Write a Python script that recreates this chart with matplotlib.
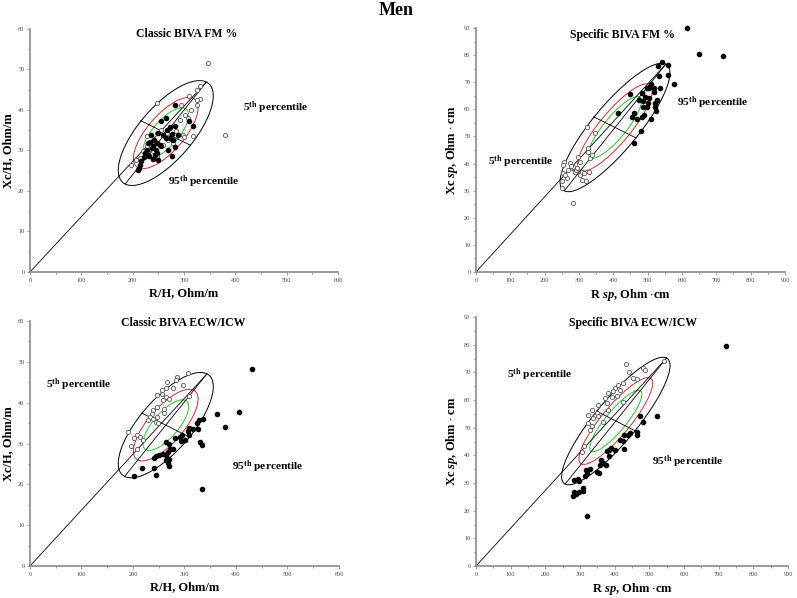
import numpy as np
import matplotlib
matplotlib.use('Agg')
import matplotlib.pyplot as plt
from matplotlib.ticker import MultipleLocator, AutoMinorLocator

plt.rcParams['font.family'] = ['Liberation Serif', 'DejaVu Serif']
plt.rcParams['mathtext.fontset'] = 'custom'
plt.rcParams['mathtext.rm'] = 'Liberation Serif'
plt.rcParams['mathtext.it'] = 'Liberation Serif:italic'
plt.rcParams['mathtext.bf'] = 'Liberation Serif:bold'
plt.rcParams['mathtext.bfit'] = 'Liberation Serif:bold:italic'

# Classic BIVA FM % (R/H, Xc/H)
R1_open = [347, 379.5, 247.8, 331, 326, 309.4, 331, 326, 325.6, 295, 314.6, 301.6, 292, 308, 317.8, 298, 300,
           227, 246.5, 256, 272.4, 266, 227, 230, 196, 205.6, 214, 220.5, 240, 259.5, 269, 279, 236.8, 246.5, 285]
Xc1_open = [51.6, 33.9, 41.6, 46, 45, 43.4, 42.6, 42.5, 41.3, 41.3, 40.1, 38.8, 37.6, 38, 33.5, 33.9, 33.3,
            33.5, 34.3, 35.1, 35.6, 34.3, 31, 29.4, 26.5, 27.7, 28.1, 29.8, 29.8, 31.4, 32.7, 31.9, 31.9, 28.6, 34.7]
R1_fill = [282, 264.6, 255, 310, 316.6, 282.8, 272.4, 267, 288.6, 275.7, 259.5, 234.8, 241, 233.5, 246.5, 272.4,
           279, 264.6, 253, 256, 283.4, 269, 245, 236.8, 227, 223.8, 230, 243, 248, 240, 250, 277, 222, 217, 214,
           212.8, 209.5, 231.6, 238.7, 249.8, 230]
Xc1_fill = [41.3, 37.9, 37.2, 37.2, 36, 36.1, 35.7, 35, 33.9, 34, 33.9, 33.9, 32.7, 32.1, 31.9, 33.1, 32.7, 33.1,
            31.4, 31, 30.9, 30, 30.2, 30.6, 30.2, 29.4, 29, 29, 29.4, 27.9, 27.7, 28.6, 28.4, 27.3, 26.5, 25.7,
            25.1, 28.6, 31, 34.3, 31.9]

# Specific BIVA FM % (R sp, Xc sp)
R2_open = [281.6, 322.3, 346.6, 327.2, 332, 337, 303, 278.6, 273.8, 288.3, 264, 303, 307.8, 319.4, 330, 249.5,
           249.5, 254.4, 283.5, 290.3, 295, 256.3, 252.4, 307.8, 275.7, 259.2, 298, 325, 269, 315.5]
Xc2_open = [25.4, 53.6, 51.1, 44.4, 42.2, 43.2, 40.7, 38.3, 40.1, 37, 34.8, 35.8, 34, 33.6, 36.7, 33.4, 30.9,
            36.4, 38.9, 37.6, 38.3, 40.7, 39.5, 37, 39.1, 35.8, 42.5, 45.9, 37.6, 36.4]
R2_fill = [615.5, 648.5, 718.4, 542.7, 529, 558, 534, 560, 576.7, 509.7, 536, 518.4, 499, 505, 482.5, 519, 448.5,
           474.8, 492, 505, 526.2, 521, 502, 485.4, 497, 487.4, 521.4, 524, 414.6, 460, 455.3, 470, 490, 483.5,
           510.7, 480.6, 461.2]
Xc2_fill = [90, 80.3, 79.7, 77.5, 76, 76.3, 72.2, 72.6, 69.3, 69.5, 68, 67.7, 67.7, 67.7, 66.1, 66.5, 65.5, 63.6,
            64.4, 64, 63.6, 62.2, 62.2, 63.1, 60.9, 60.7, 60.7, 59.5, 58.7, 58.7, 57, 56.6, 57.9, 57.3, 56.6, 52.1,
            47.5]

# Classic BIVA ECW/ICW
R3_open = [306, 286, 282.8, 265.4, 264, 297.7, 278, 255.7, 246, 257, 263.4, 270.6, 257.6, 309.4, 246, 239.5, 237,
           260.8, 260.8, 233, 239.5, 247, 244, 249, 191, 208.4, 213.6, 202.6, 195.5, 220, 207, 228.5]
Xc3_open = [47.3, 46.3, 45.6, 45.1, 43.7, 44.4, 43.7, 43, 41.8, 42.2, 41.4, 40.8, 40.6, 41.6, 38.9, 38.1, 37.3,
            38.5, 37.5, 36.5, 36.1, 36.5, 35.3, 35, 32.8, 32, 31.6, 31.3, 29.4, 30.9, 28.6, 35.8]
R3_fill = [431.7, 405.8, 362.5, 379.3, 336.6, 329, 323.6, 317, 327, 308.7, 307.4, 308.7, 295.8, 291.3, 301, 293,
           282, 330, 334, 263.4, 270, 278.3, 272, 268.6, 257.6, 251, 244.7, 240.8, 263.4, 270.6, 263.4, 267.3,
           270.6, 241.4, 218, 202.6, 244.7, 335]
Xc3_fill = [48.2, 37.7, 37.3, 34, 36.1, 35.8, 35, 33.5, 33.6, 33.9, 33, 32.2, 32, 31.6, 30.9, 30.6, 31.4, 30.4,
            29.7, 30.4, 30, 28.7, 28.7, 27.9, 27.5, 27.3, 26.9, 26.5, 27.3, 26.3, 25.9, 25.3, 24.4, 24, 24, 22,
            22.4, 18.8]

# Specific BIVA ECW/ICW
R4_open = [543, 432, 482.7, 487.5, 441.5, 454, 463.5, 425, 410.7, 401, 396, 372, 391.6, 406, 415.5, 425, 353, 377,
           334, 348, 324, 353, 338.8, 367.6, 324, 334, 329, 313, 307, 382, 382]
Xc4_open = [74.2, 73, 71.6, 71, 70.1, 68, 67.6, 66.1, 65.5, 64.3, 63.1, 60.7, 61.1, 61.3, 63.7, 59.2, 58.3, 58.9,
            56.5, 55.3, 54.7, 54.1, 53.5, 51.9, 51.7, 50.5, 49.3, 43.5, 41.1, 56.3, 62.5]
R4_fill = [720.7, 521, 473, 480.8, 465.4, 463.5, 444.3, 439.5, 427, 415.5, 423, 401, 388.7, 385, 379, 428, 383.9,
           360.8, 358, 374, 365.5, 329, 317.7, 321.5, 348, 355, 314.5, 295.6, 283, 297, 284, 288, 281, 298.5, 310,
           310, 321.5]
Xc4_fill = [79.6, 54.3, 54.1, 51.9, 48.3, 47.5, 48.1, 47.5, 47.5, 45.7, 45.1, 41.8, 42.7, 41.8, 41.4, 42.4, 39.6,
            38.2, 36.6, 36.4, 37.2, 35.2, 34.6, 33.6, 33.9, 33.6, 32.4, 31.4, 31.2, 30.6, 26.6, 26, 25.2, 26.6, 28.2,
            27, 17.9]

# reference population: mean R, mean Xc, SD R, SD Xc, r
ref_classic_fm = [264.5, 34.3, 37.8, 5.29, 0.71]
ref_specific_fm = [405, 53.3, 65.4, 9.68, 0.85]
ref_classic_ecw = [263.7, 34.5, 37.7, 5.27, 0.73]
ref_specific_ecw = [403.4, 52.4, 63.9, 9.42, 0.87]

# tolerance ellipses 50 %, 75 %, 95 %
percentiles = [0.50, 0.75, 0.95]
ellipse_colors = ['#22cc22', '#e8262a', 'black']

titles = ['Classic BIVA FM %', 'Specific BIVA FM %', 'Classic BIVA ECW/ICW', 'Specific BIVA ECW/ICW']


def ellipse_geometry(ref, p, scale=10.0):
    mR, mX, sR, sX, r = ref
    k = np.sqrt(-2 * np.log(1 - p))
    cov = np.array([[sR ** 2, r * sR * sX], [r * sR * sX, sX ** 2]])
    D = np.diag([1.0, scale])
    vals, vecs = np.linalg.eigh(D @ cov @ D)
    t = np.linspace(0, 2 * np.pi, 300)
    pts = vecs @ (np.sqrt(vals)[:, None] * k * np.vstack([np.cos(t), np.sin(t)]))
    pts = pts / np.array([[1.0], [scale]])
    minor = vecs[:, 0] * np.sqrt(vals[0]) * k / np.array([1.0, scale])
    major = vecs[:, 1] * np.sqrt(vals[1]) * k / np.array([1.0, scale])
    if major[0] < 0:
        major = -major
    return mR + pts[0], mX + pts[1], major, minor


def draw_panel(ax, ref, r_open, x_open, r_fill, x_fill, xmax, ymax):
    mR, mX = ref[0], ref[1]
    for p, c in zip(percentiles, ellipse_colors):
        ex, ey, major, minor = ellipse_geometry(ref, p)
        ax.plot(ex, ey, color=c, lw=0.7, zorder=2)
    # axes of the 95 % ellipse and line from origin
    ax.plot([mR - major[0], mR + major[0]], [mX - major[1], mX + major[1]], color='black', lw=0.6, zorder=2)
    ax.plot([mR - minor[0], mR + minor[0]], [mX - minor[1], mX + minor[1]], color='black', lw=0.6, zorder=2)
    ax.plot([0, mR + major[0]], [0, mX + major[1]], color='black', lw=0.6, zorder=2)

    ax.scatter(r_open, x_open, s=9, facecolors='white', edgecolors='#555555', linewidths=0.6, zorder=3,
               clip_on=False)
    ax.scatter(r_fill, x_fill, s=9, color='black', zorder=4, clip_on=False)

    ax.set_xlim(0, xmax)
    ax.set_ylim(0, ymax)
    ax.xaxis.set_major_locator(MultipleLocator(100))
    ax.yaxis.set_major_locator(MultipleLocator(10))
    ax.xaxis.set_minor_locator(AutoMinorLocator(2))
    ax.yaxis.set_minor_locator(AutoMinorLocator(2))
    for s in ['top', 'right']:
        ax.spines[s].set_visible(False)
    for s in ['left', 'bottom']:
        ax.spines[s].set_color('#8a8a8a')
        ax.spines[s].set_linewidth(1.2)
    ax.tick_params(which='both', colors='#8a8a8a', labelcolor='#444444', labelsize=4.5, length=2, width=0.6,
                   pad=2)
    ax.tick_params(which='minor', length=1.5)


fig = plt.figure(figsize=(7.97, 5.98), dpi=100)
ax1 = fig.add_axes([0.0376, 0.5452, 0.3865, 0.4064])
ax2 = fig.add_axes([0.5972, 0.5452, 0.3877, 0.4080])
ax3 = fig.add_axes([0.0376, 0.0535, 0.3877, 0.4097])
ax4 = fig.add_axes([0.5972, 0.0535, 0.3915, 0.4164])

draw_panel(ax1, ref_classic_fm, R1_open, Xc1_open, R1_fill, Xc1_fill, 600, 60)
draw_panel(ax2, ref_specific_fm, R2_open, Xc2_open, R2_fill, Xc2_fill, 900, 90)
draw_panel(ax3, ref_classic_ecw, R3_open, Xc3_open, R3_fill, Xc3_fill, 600, 60)
draw_panel(ax4, ref_specific_ecw, R4_open, Xc4_open, R4_fill, Xc4_fill, 900, 90)

lab = dict(fontsize=9, fontweight='bold')
for ax in (ax1, ax3):
    ax.set_xlabel('R/H, Ohm/m', labelpad=3, **lab)
    ax.set_ylabel('Xc/H, Ohm/m', labelpad=3, **lab)
for ax in (ax2, ax4):
    ax.set_xlabel(r'R $\mathbfit{sp}$, Ohm $\mathbf{\cdot}$cm', labelpad=3, **lab)
    ax.set_ylabel(r'Xc $\mathbfit{sp}$, Ohm $\mathbf{\cdot}$ cm', labelpad=3, **lab)

tkw = dict(fontsize=8.5, fontweight='bold', ha='center', va='center')
ax1.text(306, 58.8, titles[0], **tkw)
ax2.text(428, 87.4, titles[1], **tkw)
ax3.text(297, 59.4, titles[2], **tkw)
ax4.text(454, 87.7, titles[3], **tkw)

pkw = dict(fontsize=8.2, fontweight='bold', ha='left', va='center')
fifth = r'5$^{\mathbf{th}}$ percentile'
ninety5 = r'95$^{\mathbf{th}}$ percentile'
ax1.text(415, 40.5, fifth, **pkw)
ax1.text(269, 22.2, ninety5, **pkw)
ax2.text(36, 40.5, fifth, **pkw)
ax2.text(585, 62.4, ninety5, **pkw)
ax3.text(31, 44.3, fifth, **pkw)
ax3.text(393, 24.3, ninety5, **pkw)
ax4.text(90, 69, fifth, **pkw)
ax4.text(507, 37.7, ninety5, **pkw)

fig.text(0.4965, 0.982, 'Men', fontsize=13, fontweight='bold', ha='center', va='center')

fig.savefig('out.png', dpi=100)
